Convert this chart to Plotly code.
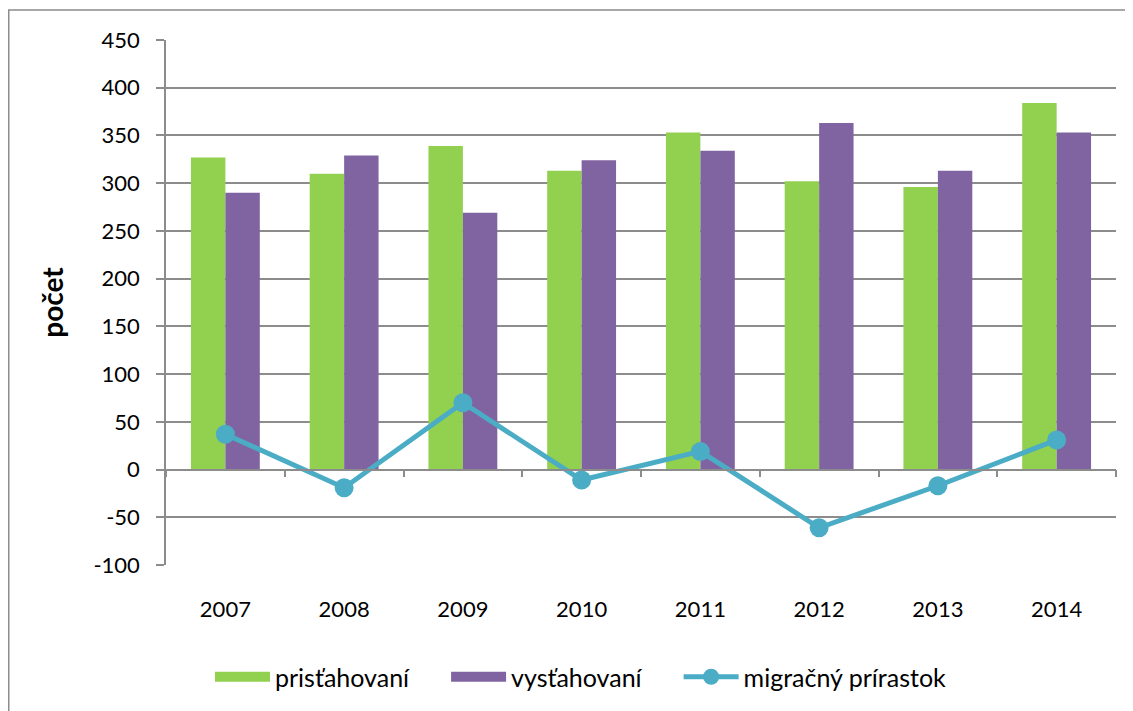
import plotly.graph_objects as go

years = ["2007", "2008", "2009", "2010", "2011", "2012", "2013", "2014"]
pristahovani = [327, 310, 339, 313, 353, 302, 296, 384]
vystahovani = [290, 329, 269, 324, 334, 363, 313, 353]
prirastok = [37, -19, 70, -11, 19, -61, -17, 31]
y_ticks = [-100, -50, 0, 50, 100, 150, 200, 250, 300, 350, 400, 450]
y_ticktext = ["-100", "-50", "0", "50", "100", "150", "200", "250", "300", "350", "400", "450"]
series_names = ["prisťahovaní", "vysťahovaní", "migračný prírastok"]

FONT = "Lato, Carlito, Calibri, sans-serif"
GRID = "#8c8c8c"
GREEN = "#92D050"
PURPLE = "#8064A2"
BLUE = "#4BACC6"
PAD = "\u00a0" * 5  # extra spacing between legend entries

# page has an 8px body margin, so the figure is sized/offset to compensate
W, H = 1125, 703
ML, MR, MT, MB = 158, 17, 32, 145
PW = W - ML - MR
PH = H - MT - MB

fig = go.Figure()
fig.add_trace(go.Bar(x=years, y=pristahovani, name=series_names[0], showlegend=False,
                     marker=dict(color=GREEN, line=dict(width=0))))
fig.add_trace(go.Bar(x=years, y=vystahovani, name=series_names[1], showlegend=False,
                     marker=dict(color=PURPLE, line=dict(width=0))))
# legend entries with large patches
fig.add_trace(go.Scatter(x=[None], y=[None], mode="lines", name=series_names[0] + PAD,
                         line=dict(color=GREEN, width=18), hoverinfo="skip"))
fig.add_trace(go.Scatter(x=[None], y=[None], mode="lines", name=series_names[1] + PAD,
                         line=dict(color=PURPLE, width=18), hoverinfo="skip"))
fig.add_trace(go.Scatter(x=years, y=prirastok, name=series_names[2],
                         mode="lines+markers",
                         line=dict(color=BLUE, width=5),
                         marker=dict(color=BLUE, size=19)))
# invisible helper trace for the zero-line category axis
fig.add_trace(go.Scatter(x=years, y=[0] * len(years), xaxis="x2", mode="markers",
                         marker=dict(opacity=0), showlegend=False, hoverinfo="skip"))

fig.update_layout(
    width=W, height=H,
    margin=dict(l=ML, r=MR, t=MT, b=MB),
    paper_bgcolor="white", plot_bgcolor="white",
    font=dict(family=FONT, size=22, color="#000000"),
    barmode="group", bargap=0.42, bargroupgap=0,
    showlegend=True,
    legend=dict(orientation="h", x=(581 - 166) / PW, xanchor="center",
                y=-(677 - 566) / PH, yanchor="middle",
                font=dict(family=FONT, size=25), itemwidth=55, traceorder="normal"),
    xaxis=dict(type="category", range=[-0.5, 7.5], showline=False, showgrid=False,
               ticks="", ticklabelstandoff=29, tickfont=dict(size=22), zeroline=False,
               automargin=False),
    xaxis2=dict(type="category", range=[-0.5, 7.5], overlaying="x", anchor="free",
                position=100 / 550, showline=True, linecolor=GRID, linewidth=1.5,
                ticks="outside", ticklen=7, tickcolor=GRID, tickwidth=1.5,
                tickson="boundaries", showticklabels=False, showgrid=False,
                automargin=False),
    yaxis=dict(range=[-100, 450], tickvals=y_ticks, ticktext=y_ticktext,
               showgrid=True, gridcolor=GRID,
               gridwidth=1.5, zeroline=False, showline=True, linecolor=GRID, linewidth=1.5,
               ticks="outside", ticklen=8, tickcolor=GRID, tickwidth=1.5,
               ticklabelstandoff=12,
               tickfont=dict(size=22), automargin=False,
               title=dict(text="<b>počet</b>", font=dict(size=28), standoff=22)),
    shapes=[dict(type="rect", xref="paper", yref="paper",
                 x0=(0.75 - ML) / PW, x1=1.05, y0=-0.35, y1=(566 - 10) / PH,
                 line=dict(color="#8c8c8c", width=1.5), layer="below")],
)

fig.write_html("out.html")
